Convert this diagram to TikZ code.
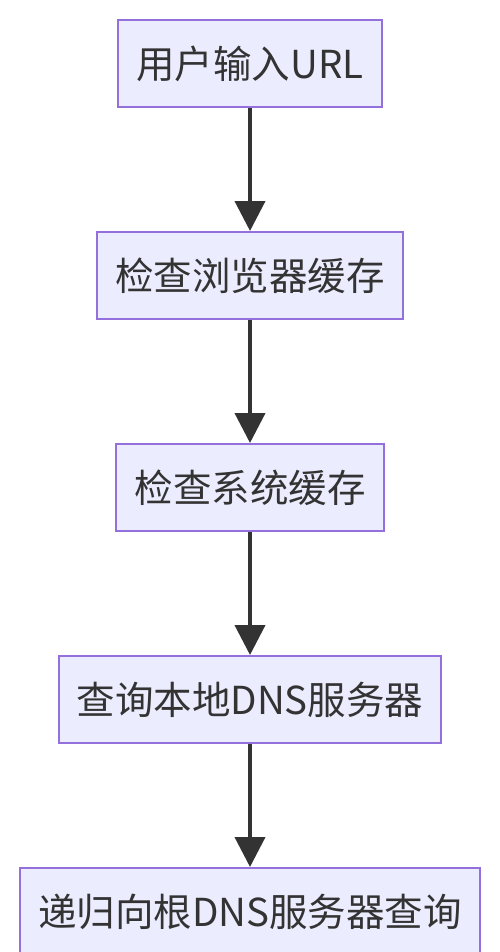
\documentclass[tikz,border=0pt]{standalone}
\usepackage{fontspec}
\setmainfont{Noto Sans CJK SC}
\usetikzlibrary{arrows.meta, positioning}
\definecolor{boxfill}{HTML}{ECECFF}
\definecolor{boxline}{HTML}{9370DB}
\definecolor{linkcol}{HTML}{333333}
\tikzset{
  stepbox/.style = {rectangle, draw=boxline, fill=boxfill, line width=2bp,
                    minimum height=87bp, inner xsep=18bp, text=linkcol,
                    font=\fontsize{38.5bp}{44bp}\selectfont},
  flow/.style    = {-{Triangle[length=30bp, width=30bp]}, line width=4bp, draw=linkcol}
}
\begin{document}
\begin{tikzpicture}[x=1bp, y=1bp, node distance=123bp]
  \useasboundingbox (0,0) rectangle (500,-952);
  \node[stepbox] (input)  at (250,-63.5) {用户输入URL};
  \node[stepbox] (browser) [below=of input]   {检查浏览器缓存};
  \node[stepbox] (system)  [below=of browser] {检查系统缓存};
  \node[stepbox] (local)   [below=of system]  {查询本地DNS服务器};
  \node[stepbox] (root)    [below=of local]   {递归向根DNS服务器查询};

  \draw[flow] (input) -- (browser);
  \draw[flow] (browser) -- (system);
  \draw[flow] (system) -- (local);
  \draw[flow] (local) -- (root);
\end{tikzpicture}
\end{document}
